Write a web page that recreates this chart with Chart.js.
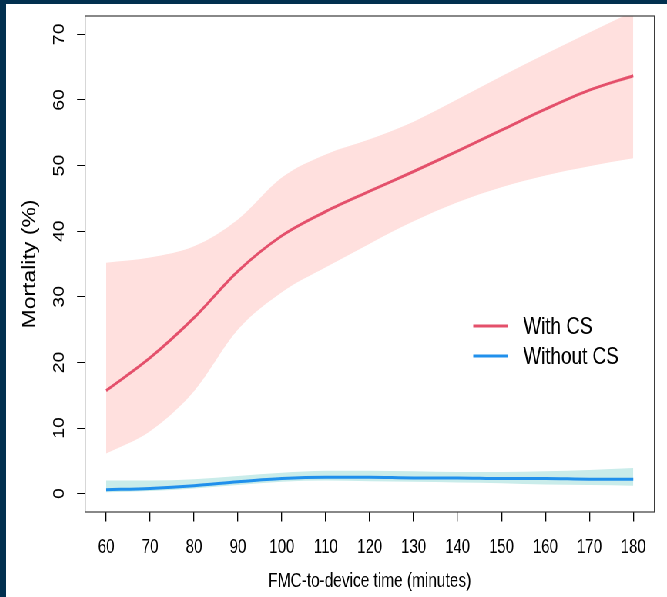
<!DOCTYPE html>
<html>
<head>
<meta charset="utf-8">
<script src="https://cdn.jsdelivr.net/npm/chart.js@4/dist/chart.umd.min.js"></script>
<style>
  html, body { margin: 0; padding: 0; width: 667px; height: 597px; overflow: hidden; background: #02304f; }
  #wrap { position: absolute; left: 6px; top: 4px; width: 858px; height: 593px; background: #ffffff;
          transform: scaleX(0.7704); transform-origin: 0 0; }
  canvas { display: block; }
</style>
</head>
<body>
<div id="wrap"><canvas id="c" width="858" height="593"></canvas></div>
<script>
// ---- data ----
const times = [60, 70, 80, 90, 100, 110, 120, 130, 140, 150, 160, 170, 180];
const withCS      = [15.7, 20.7, 26.8, 33.9, 39.3, 43.0, 46.1, 49.1, 52.2, 55.4, 58.6, 61.5, 63.7];
const withCSUpper = [35.2, 36.0, 37.7, 41.8, 48.2, 51.7, 54.0, 56.7, 60.1, 63.6, 67.0, 70.3, 73.5];
const withCSLower = [6.1, 9.5, 15.6, 25.0, 30.7, 34.5, 38.1, 41.5, 44.4, 46.7, 48.5, 49.9, 51.1];
const withoutCS      = [0.6, 0.8, 1.2, 1.8, 2.3, 2.5, 2.5, 2.4, 2.4, 2.3, 2.3, 2.2, 2.2];
const withoutCSUpper = [2.0, 2.0, 2.2, 2.7, 3.2, 3.5, 3.5, 3.4, 3.3, 3.3, 3.4, 3.6, 3.9];
const withoutCSLower = [0.2, 0.4, 0.8, 1.3, 1.8, 2.0, 1.9, 1.8, 1.7, 1.6, 1.4, 1.3, 1.2];
const xTicks = [60, 70, 80, 90, 100, 110, 120, 130, 140, 150, 160, 170, 180];
const yTicks = [0, 10, 20, 30, 40, 50, 60, 70];
const seriesLabels = ['With CS', 'Without CS'];

const FONT = "'Liberation Sans', Arial, Helvetica, sans-serif";
const RED = '#e4506b', RED_BAND = '#ffe0de';
const BLUE = '#2090ec', BLUE_BAND = '#c9ecea';

const pts = arr => arr.map((v, i) => ({ x: times[i], y: v }));

const lineBase = { pointRadius: 0, pointHoverRadius: 0, cubicInterpolationMode: 'monotone' };

const boxPlugin = {
  id: 'box',
  afterDraw(chart) {
    const { ctx, chartArea: a } = chart;
    ctx.save();
    ctx.strokeStyle = '#3a3a3a';
    ctx.lineWidth = 1.2;
    ctx.strokeRect(a.left, a.top, a.right - a.left, a.bottom - a.top);
    ctx.restore();
  }
};

const legendPlugin = {
  id: 'rlegend',
  afterDraw(chart) {
    const { ctx } = chart;
    ctx.save();
    [0, 1].forEach((di, i) => {
      const ds = chart.data.datasets[di];
      const y = 322 + i * 30;
      ctx.strokeStyle = ds.borderColor;
      ctx.lineWidth = 3;
      ctx.beginPath();
      ctx.moveTo(606.5, y);
      ctx.lineTo(652, y);
      ctx.stroke();
      ctx.fillStyle = '#000';
      ctx.font = '24.5px ' + FONT;
      ctx.textAlign = 'left';
      ctx.textBaseline = 'middle';
      ctx.fillText(ds.label, 671.4, y + 1);
    });
    ctx.restore();
  }
};

new Chart(document.getElementById('c'), {
  type: 'line',
  data: {
    datasets: [
      { ...lineBase, label: seriesLabels[0], data: pts(withCS), borderColor: RED, borderWidth: 3, fill: false },
      { ...lineBase, label: seriesLabels[1], data: pts(withoutCS), borderColor: BLUE, borderWidth: 3, fill: false },
      { ...lineBase, label: 'With CS upper', data: pts(withCSUpper), borderWidth: 0, borderColor: 'rgba(0,0,0,0)', backgroundColor: RED_BAND, fill: '+1' },
      { ...lineBase, label: 'With CS lower', data: pts(withCSLower), borderWidth: 0, borderColor: 'rgba(0,0,0,0)', fill: false },
      { ...lineBase, label: 'Without CS upper', data: pts(withoutCSUpper), borderWidth: 0, borderColor: 'rgba(0,0,0,0)', backgroundColor: BLUE_BAND, fill: '+1' },
      { ...lineBase, label: 'Without CS lower', data: pts(withoutCSLower), borderWidth: 0, borderColor: 'rgba(0,0,0,0)', fill: false }
    ]
  },
  options: {
    responsive: false,
    devicePixelRatio: 1,
    animation: false,
    layout: { padding: { left: 0, top: 12, right: 16.4, bottom: 0 } },
    plugins: { legend: { display: false }, tooltip: { enabled: false } },
    scales: {
      x: {
        type: 'linear', min: 55.2, max: 184.8,
        afterBuildTicks: s => { s.ticks = xTicks.map(v => ({ value: v })); },
        afterFit: s => { s.height = 85; s.paddingLeft = 0; s.paddingRight = 0; },
        ticks: { color: '#000', padding: 14, font: { family: FONT, size: 19.5 }, maxRotation: 0, minRotation: 0 },
        grid: { drawOnChartArea: false, drawTicks: true, tickLength: 9.5, color: '#000', lineWidth: 1.3 },
        border: { display: false },
        title: { display: true, text: 'FMC-to-device time (minutes)', color: '#000', font: { family: FONT, size: 20 }, padding: { top: 0, bottom: 4 } }
      },
      y: {
        type: 'linear', min: -2.8, max: 72.8,
        afterBuildTicks: s => { s.ticks = yTicks.map(v => ({ value: v })); },
        afterFit: s => { s.width = 102.6; s.paddingTop = 0; s.paddingBottom = 0; },
        ticks: { color: '#000', padding: 11.3, crossAlign: 'center', minRotation: 90, maxRotation: 90, font: { family: FONT, size: 19.5 } },
        grid: { drawOnChartArea: false, drawTicks: true, tickLength: 10.4, color: '#000', lineWidth: 1 },
        border: { display: false },
        title: { display: true, text: 'Mortality (%)', color: '#000', font: { family: FONT, size: 23 }, padding: { top: 17.4, bottom: 0 } }
      }
    }
  },
  plugins: [boxPlugin, legendPlugin]
});
</script>
</body>
</html>
